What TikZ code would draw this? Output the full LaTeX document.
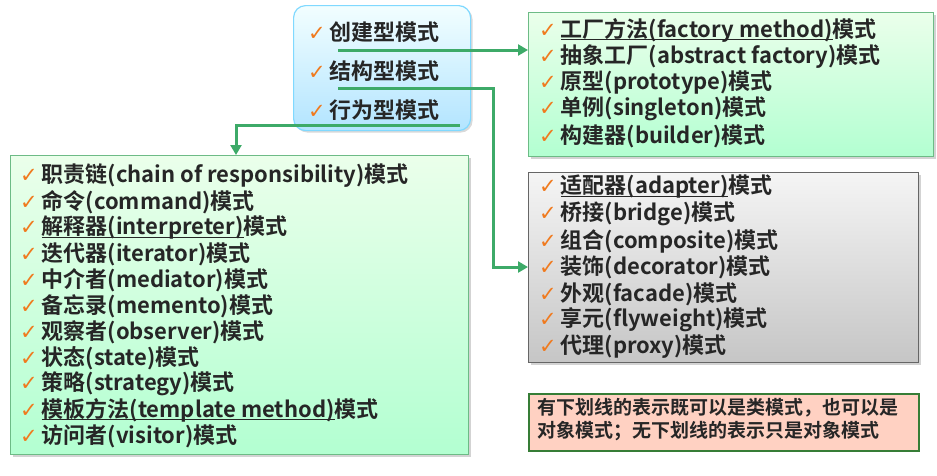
\documentclass[tikz,border=0pt]{standalone}
\usepackage{fontspec}
\setmainfont{Noto Sans CJK SC}[BoldFont={Noto Sans CJK SC Bold}]
\newfontfamily\dv{DejaVu Sans}
\usetikzlibrary{shadows,arrows.meta}
\definecolor{arr}{HTML}{3DAA68}
\definecolor{chk}{HTML}{F07A1E}
\definecolor{txt}{HTML}{262626}
\definecolor{gbord}{HTML}{6DBB86}
\newcommand{\ck}{{\dv\fontsize{21}{21}\selectfont\color{chk}✓}\hspace{4pt}}
\newcommand{\ul}[1]{\setbox0\hbox{#1}\rlap{\rule[-2.5pt]{\wd0}{0.9pt}}\box0}
\tikzset{
  item/.style={anchor=west, inner sep=0pt, font=\fontsize{22}{22}\selectfont\bfseries, text=txt},
  greenbox/.style={draw=gbord, line width=1.2pt, top color=green!8!white, bottom color=green!60!cyan!30!white, drop shadow={opacity=0.35, shadow xshift=2pt, shadow yshift=-2pt}},
  greybox/.style={draw=gray!80!black, line width=1.2pt, top color=gray!8, bottom color=gray!45, drop shadow={opacity=0.35, shadow xshift=2pt, shadow yshift=-2pt}},
  conn/.style={draw=arr, line width=3pt, -{Triangle[length=10pt,width=11pt]}},
}
\begin{document}
\begin{tikzpicture}[x=1pt,y=-1pt]
\useasboundingbox (0,0) rectangle (937,475);
% boxes
\node[draw=blue!30!cyan!50, line width=1.2pt, rounded corners=12pt, top color=blue!5!cyan!5!white, bottom color=blue!35!cyan!30!white, minimum width=177pt, minimum height=125pt, anchor=north west, inner sep=0pt, drop shadow={opacity=0.3, shadow xshift=2pt, shadow yshift=-2pt}] (cat) at (293,5) {};
\node[greenbox, minimum width=405pt, minimum height=144pt, anchor=north west, inner sep=0pt] (cre) at (528,12) {};
\node[greybox, minimum width=390pt, minimum height=190pt, anchor=north west, inner sep=0pt] (str) at (528,172) {};
\node[greenbox, minimum width=458pt, minimum height=299pt, anchor=north west, inner sep=0pt] (beh) at (10,155) {};
\node[draw=gray!60!green!70!black, line width=1.6pt, fill=orange!20!pink!60!white, minimum width=390pt, minimum height=57pt, anchor=north west, inner sep=0pt] (note) at (528,393) {};
% category items
\node[item] (c1) at (308,32) {\ck 创建型模式};
\node[item] (c2) at (308,71) {\ck 结构型模式};
\node[item] (c3) at (308,110) {\ck 行为型模式};
% creational
\node[item] (r1) at (539,30) {\ck \ul{工厂方法(factory method)}模式};
\node[item] (r2) at (539,57) {\ck 抽象工厂(abstract factory)模式};
\node[item] (r3) at (539,83) {\ck 原型(prototype)模式};
\node[item] (r4) at (539,109) {\ck 单例(singleton)模式};
\node[item] (r5) at (539,136) {\ck 构建器(builder)模式};
% structural
\node[item] (s1) at (539,187) {\ck \ul{适配器(adapter)}模式};
\node[item] (s2) at (539,214) {\ck 桥接(bridge)模式};
\node[item] (s3) at (539,241) {\ck 组合(composite)模式};
\node[item] (s4) at (539,267) {\ck 装饰(decorator)模式};
\node[item] (s5) at (539,294) {\ck 外观(facade)模式};
\node[item] (s6) at (539,320) {\ck 享元(flyweight)模式};
\node[item] (s7) at (539,347) {\ck 代理(proxy)模式};
% behavioral
\node[item] (b1) at (20,176) {\ck 职责链(chain of responsibility)模式};
\node[item] (b2) at (20,202) {\ck 命令(command)模式};
\node[item] (b3) at (20,228) {\ck \ul{解释器(interpreter)}模式};
\node[item] (b4) at (20,254) {\ck 迭代器(iterator)模式};
\node[item] (b5) at (20,280) {\ck 中介者(mediator)模式};
\node[item] (b6) at (20,306) {\ck 备忘录(memento)模式};
\node[item] (b7) at (20,332) {\ck 观察者(observer)模式};
\node[item] (b8) at (20,358) {\ck 状态(state)模式};
\node[item] (b9) at (20,384) {\ck 策略(strategy)模式};
\node[item] (b10) at (20,410) {\ck \ul{模板方法(template method)}模式};
\node[item] (b11) at (20,436) {\ck 访问者(visitor)模式};
% note
\node[anchor=north west, inner sep=0pt, align=left, font=\fontsize{19}{23}\selectfont\bfseries, text=txt] (nt) at (537,398) {有下划线的表示既可以是类模式，也可以是\\对象模式；无下划线的表示只是对象模式};
% connectors
\coordinate (a1) at (338,50);
\coordinate (a2) at (338,88);
\coordinate (k2) at (493,88);
\coordinate (a3) at (460,125);
\coordinate (k3) at (236,125);
\draw[conn] (a1) -- (cre.west |- a1);
\draw[conn] (a2) -- (k2) |- (s4.west -| str.west);
\draw[conn] (a3) -- (k3) -- (k3 |- beh.north);
\end{tikzpicture}
\end{document}
